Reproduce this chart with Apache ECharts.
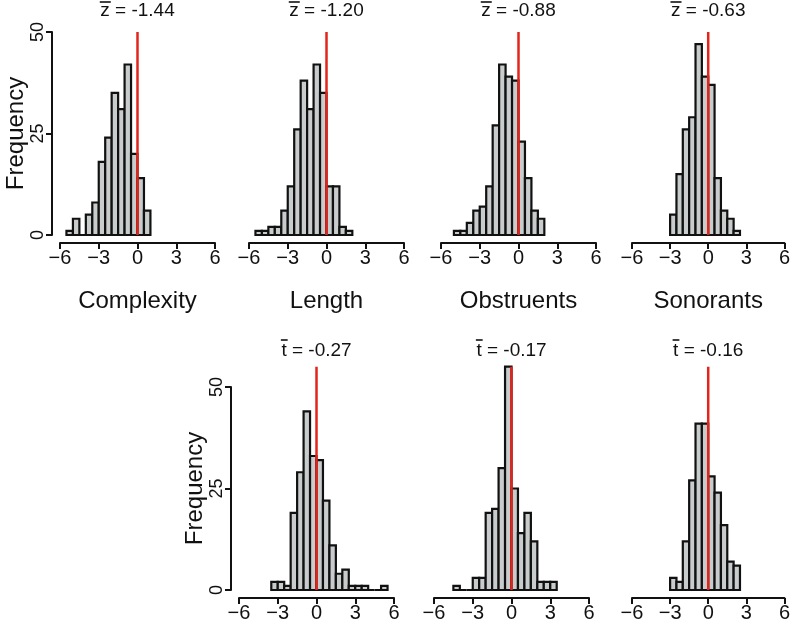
<!DOCTYPE html>
<html><head><meta charset="utf-8">
<script src="https://cdn.jsdelivr.net/npm/echarts@6/dist/echarts.min.js"></script>
<style>html,body{margin:0;padding:0;background:#fff}#c{width:793px;height:627px}</style>
</head><body><div id="c"></div>
<script>
// ---- data ----
const binWidth = 0.5;
const panelNames = ['Complexity', 'Length', 'Obstruents', 'Sonorants'];
const meanSymbols = ['z', 'z', 'z', 'z', 't', 't', 't'];
const meanValues = ['-1.44', '-1.20', '-0.88', '-0.63', '-0.27', '-0.17', '-0.16'];
const binStarts = [-5.5, -5.5, -5, -3, -3.5, -4.5, -3];
const countsComplexZ   = [1, 4, 0, 5, 8, 18, 24, 35, 31, 42, 20, 14, 6];
const countsLengthZ    = [1, 1, 2, 2, 6, 12, 26, 38, 31, 42, 35, 12, 12, 2, 1];
const countsObstrZ     = [1, 1, 3, 6, 7, 12, 27, 42, 39, 38, 23, 14, 6, 4];
const countsSonorZ     = [5, 15, 26, 29, 47, 39, 37, 14, 6, 4, 1];
const countsLengthT    = [2, 2, 1, 19, 29, 44, 33, 32, 22, 11, 4, 5, 1, 1, 1, 0, 0, 1];
const countsObstrT     = [1, 0, 0, 3, 3, 19, 20, 30, 55, 25, 14, 19, 12, 2, 2, 2];
const countsSonorT     = [3, 2, 12, 27, 41, 41, 28, 24, 16, 7, 6];
const allCounts = [countsComplexZ, countsLengthZ, countsObstrZ, countsSonorZ, countsLengthT, countsObstrT, countsSonorT];
const refLineX = 0;
const refLineTop = [50, 50, 50, 50, 55, 55, 55];
const xTicks = [-6, -3, 0, 3, 6];
const yTicks = [0, 25, 50];

// ---- layout ----
const W = 155, H = 203;
const lefts = [60, 249, 441, 632, 239, 434, 632];
const tops  = [32, 32, 32, 32, 387, 387, 387];
const showY = [true, false, false, false, true, false, false];
const FONT = 'Liberation Sans, Arial, Helvetica, sans-serif';
const TITLE_FONT = '19px ' + FONT;
const fmt = v => v < 0 ? '\u2212' + Math.abs(v) : String(v);

const grid = [], xAxis = [], yAxis = [], series = [];
for (let i = 0; i < 7; i++) {
  grid.push({left: lefts[i], top: tops[i], width: W, height: H, containLabel: false});
  xAxis.push({
    type: 'value', gridIndex: i, min: xTicks[0], max: xTicks[xTicks.length - 1], interval: 3,
    offset: 8, splitLine: {show: false},
    axisLine: {show: true, onZero: false, lineStyle: {color: '#111', width: 2}},
    axisTick: {show: true, length: 6, lineStyle: {color: '#111', width: 2}},
    axisLabel: {fontSize: 20, color: '#111', fontFamily: FONT, margin: 5, formatter: fmt}
  });
  yAxis.push({
    type: 'value', gridIndex: i, min: yTicks[0], max: yTicks[yTicks.length - 1], interval: 25,
    show: showY[i], offset: 8, splitLine: {show: false},
    name: showY[i] ? 'Frequency' : '', nameLocation: 'middle', nameGap: 24, nameRotate: 90,
    nameTextStyle: {fontSize: 24, color: '#111', fontFamily: FONT},
    axisLine: {show: true, onZero: false, lineStyle: {color: '#111', width: 2}},
    axisTick: {show: true, length: 6, lineStyle: {color: '#111', width: 2}},
    axisLabel: {fontSize: 18, color: '#111', fontFamily: FONT, margin: 5, rotate: 90}
  });
  const data = allCounts[i].map((c, k) => {
    const s = binStarts[i] + k * binWidth;
    return [s, s + binWidth, c];
  });
  series.push({
    type: 'custom', xAxisIndex: i, yAxisIndex: i, clip: false, z: 2,
    dimensions: ['start', 'end', 'count'],
    encode: {x: [0, 1], y: 2},
    data: data,
    renderItem: function (params, api) {
      const a = api.coord([api.value(0), 0]);
      const b = api.coord([api.value(1), api.value(2)]);
      return {
        type: 'rect',
        shape: {x: a[0], y: b[1], width: b[0] - a[0], height: a[1] - b[1]},
        style: {fill: '#c8cccc', stroke: '#111', lineWidth: 2.2}
      };
    }
  });
  series.push({
    type: 'line', xAxisIndex: i, yAxisIndex: i, clip: false, z: 5, symbol: 'none',
    silent: true, animation: false,
    lineStyle: {color: '#e3241b', width: 2.5},
    data: [[refLineX, 0], [refLineX, refLineTop[i]]]
  });
}

const option = {
  animation: false,
  backgroundColor: '#fff',
  grid, xAxis, yAxis, series
};
const chart = echarts.init(document.getElementById('c'), null, {renderer: 'canvas'});
chart.setOption(option);

// text measurement for the overbar on the mean symbol
const mctx = document.createElement('canvas').getContext('2d');
mctx.font = TITLE_FONT;

const gtext = [];
for (let i = 0; i < 7; i++) {
  const p = chart.convertToPixel({gridIndex: i}, [0, 0]);
  const yTitle = i < 4 ? 11 : 351;
  const txt = meanSymbols[i] + ' = ' + meanValues[i];
  const totalW = mctx.measureText(txt).width;
  const symW = mctx.measureText(meanSymbols[i]).width;
  const x0 = p[0] - totalW / 2;
  const barY = yTitle - (meanSymbols[i] === 'z' ? 9 : 11);
  gtext.push({type: 'text', x: p[0], y: yTitle,
    style: {text: txt, font: TITLE_FONT, fill: '#111',
      align: 'center', verticalAlign: 'middle', textAlign: 'center', textVerticalAlign: 'middle'}});
  gtext.push({type: 'line', shape: {x1: x0 - 0.5, y1: barY, x2: x0 + symW + 1, y2: barY},
    style: {stroke: '#111', lineWidth: 1.6}});
  if (i < 4) {
    gtext.push({type: 'text', x: p[0], y: 301,
      style: {text: panelNames[i], font: '24px ' + FONT, fill: '#111',
        align: 'center', verticalAlign: 'middle', textAlign: 'center', textVerticalAlign: 'middle'}});
  }
}
chart.setOption({graphic: gtext});
</script>
</body></html>
